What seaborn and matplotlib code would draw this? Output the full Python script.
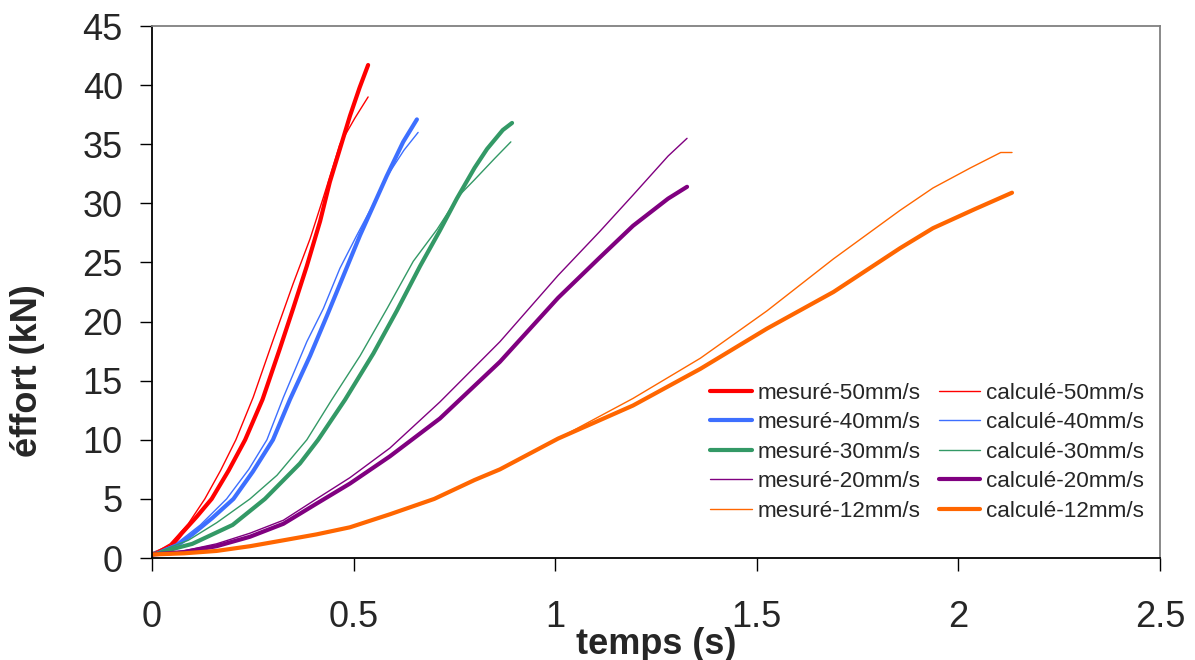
import matplotlib
matplotlib.use("Agg")
import matplotlib.pyplot as plt
import seaborn as sns
import pandas as pd

# ---------------- data ----------------
# 50 mm/s
t_mes50 = [0.0, 0.048, 0.074, 0.111, 0.148, 0.190, 0.231, 0.274, 0.317, 0.350, 0.384, 0.417, 0.441, 0.466, 0.491, 0.515, 0.536]
f_mes50 = [0.3, 1.0, 2.1, 3.5, 5.0, 7.4, 10.0, 13.4, 17.7, 21.1, 24.7, 28.5, 31.8, 34.6, 37.4, 39.8, 41.7]
t_cal50 = [0.0, 0.045, 0.090, 0.131, 0.170, 0.208, 0.251, 0.300, 0.350, 0.392, 0.425, 0.466, 0.503, 0.536]
f_cal50 = [0.3, 1.2, 2.9, 5.0, 7.4, 10.0, 13.6, 18.4, 23.2, 27.0, 30.5, 35.0, 37.2, 39.0]

# 40 mm/s
t_mes40 = [0.0, 0.060, 0.100, 0.150, 0.202, 0.250, 0.300, 0.342, 0.392, 0.434, 0.475, 0.516, 0.549, 0.582, 0.623, 0.657]
f_mes40 = [0.3, 1.0, 2.0, 3.4, 5.0, 7.3, 10.0, 13.4, 17.1, 20.5, 23.9, 27.3, 29.8, 32.3, 35.2, 37.1]
t_cal40 = [0.0, 0.060, 0.120, 0.185, 0.240, 0.285, 0.326, 0.384, 0.425, 0.466, 0.508, 0.550, 0.585, 0.625, 0.660]
f_cal40 = [0.3, 1.2, 2.8, 5.0, 7.5, 10.0, 13.6, 18.3, 21.1, 24.5, 27.3, 30.0, 32.4, 34.5, 36.0]

# 30 mm/s
t_mes30 = [0.0, 0.100, 0.200, 0.280, 0.367, 0.412, 0.479, 0.549, 0.607, 0.665, 0.714, 0.756, 0.800, 0.831, 0.870, 0.893]
f_mes30 = [0.3, 1.2, 2.8, 5.0, 8.0, 10.0, 13.4, 17.3, 20.9, 24.7, 27.7, 30.4, 33.0, 34.6, 36.2, 36.8]
t_cal30 = [0.0, 0.090, 0.161, 0.243, 0.310, 0.384, 0.446, 0.516, 0.583, 0.648, 0.707, 0.760, 0.800, 0.850, 0.890]
f_cal30 = [0.3, 1.5, 3.0, 5.0, 7.0, 10.0, 13.4, 17.1, 21.1, 25.1, 27.8, 30.6, 32.0, 33.8, 35.2]

# 20 mm/s
t_mes20 = [0.0, 0.078, 0.160, 0.243, 0.326, 0.408, 0.491, 0.590, 0.714, 0.863, 1.007, 1.110, 1.193, 1.280, 1.327]
f_mes20 = [0.3, 0.6, 1.2, 2.1, 3.2, 5.0, 6.8, 9.3, 13.2, 18.3, 23.9, 27.6, 30.7, 34.0, 35.5]
t_cal20 = [0.0, 0.078, 0.160, 0.243, 0.326, 0.408, 0.491, 0.590, 0.714, 0.863, 1.007, 1.110, 1.193, 1.280, 1.327]
f_cal20 = [0.3, 0.5, 1.0, 1.8, 2.9, 4.6, 6.3, 8.6, 11.8, 16.6, 22.0, 25.4, 28.1, 30.4, 31.4]

# 12 mm/s
t_mes12 = [0.0, 0.080, 0.160, 0.243, 0.326, 0.408, 0.491, 0.590, 0.700, 0.800, 0.863, 1.007, 1.193, 1.360, 1.525, 1.690, 1.855, 1.937, 2.030, 2.105, 2.133]
f_mes12 = [0.3, 0.4, 0.6, 1.0, 1.5, 2.0, 2.6, 3.7, 5.0, 6.6, 7.5, 10.1, 13.5, 16.9, 20.9, 25.3, 29.4, 31.3, 33.0, 34.3, 34.3]
t_cal12 = [0.0, 0.080, 0.160, 0.243, 0.326, 0.408, 0.491, 0.590, 0.700, 0.800, 0.863, 1.007, 1.193, 1.360, 1.525, 1.690, 1.855, 1.937, 2.040, 2.133]
f_cal12 = [0.3, 0.4, 0.6, 1.0, 1.5, 2.0, 2.6, 3.7, 5.0, 6.6, 7.5, 10.1, 12.9, 16.0, 19.4, 22.5, 26.2, 27.9, 29.5, 30.9]

x_ticks = [0, 0.5, 1, 1.5, 2, 2.5]
x_tick_labels = ['0', '0.5', '1', '1.5', '2', '2.5']
y_ticks = [0, 5, 10, 15, 20, 25, 30, 35, 40, 45]

# ---------------- styles ----------------
THICK = 3.0
THIN = 1.0
series = [
    ('mesuré-50mm/s', t_mes50, f_mes50, '#FF0000', THICK),
    ('mesuré-40mm/s', t_mes40, f_mes40, '#3D6FFF', THICK),
    ('mesuré-30mm/s', t_mes30, f_mes30, '#339966', THICK),
    ('mesuré-20mm/s', t_mes20, f_mes20, '#800080', THIN),
    ('mesuré-12mm/s', t_mes12, f_mes12, '#FF6600', THIN),
    ('calculé-50mm/s', t_cal50, f_cal50, '#FF0000', THIN),
    ('calculé-40mm/s', t_cal40, f_cal40, '#3D6FFF', THIN),
    ('calculé-30mm/s', t_cal30, f_cal30, '#339966', THIN),
    ('calculé-20mm/s', t_cal20, f_cal20, '#800080', THICK),
    ('calculé-12mm/s', t_cal12, f_cal12, '#FF6600', THICK),
]

sns.set_style('white')
plt.rcParams['font.family'] = ['Liberation Sans', 'DejaVu Sans']

fig, ax = plt.subplots(figsize=(11.95, 6.6), dpi=100)
fig.subplots_adjust(left=0.1272, right=0.9707, bottom=0.1545, top=0.9606)

for name, t, f, col, lw in series:
    df = pd.DataFrame({'t': t, 'f': f})
    sns.lineplot(data=df, x='t', y='f', ax=ax, color=col, linewidth=lw,
                 label=name, sort=False, solid_capstyle='round',
                 solid_joinstyle='round')

ax.set_xlim(0, 2.5)
ax.set_ylim(0, 45)
ax.set_xticks(x_ticks)
ax.set_xticklabels(x_tick_labels)
ax.set_yticks(y_ticks)
ax.tick_params(axis='both', labelsize=26, direction='out', length=9, width=1,
               color='black', left=True, bottom=True)
ax.tick_params(axis='y', pad=12)
ax.tick_params(axis='x', pad=21)

for side in ['left', 'bottom']:
    ax.spines[side].set_color('black')
    ax.spines[side].set_linewidth(1.3)
for side in ['top', 'right']:
    ax.spines[side].set_color('#808080')
    ax.spines[side].set_linewidth(1.3)

ax.set_xlabel('temps (s)', fontsize=26, fontweight='bold')
ax.set_ylabel('éffort (kN)', fontsize=26, fontweight='bold')
ax.xaxis.set_label_coords(0.5, -0.13)
ax.yaxis.set_label_coords(-0.106, 0.353)

ax.legend(ncol=2, frameon=False, fontsize=16.2, loc='lower left',
          bbox_to_anchor=(0.545, 0.051), handlelength=1.85, handletextpad=0.25,
          columnspacing=0.8, labelspacing=0.38, borderaxespad=0)

fig.savefig('out.png', dpi=100)
